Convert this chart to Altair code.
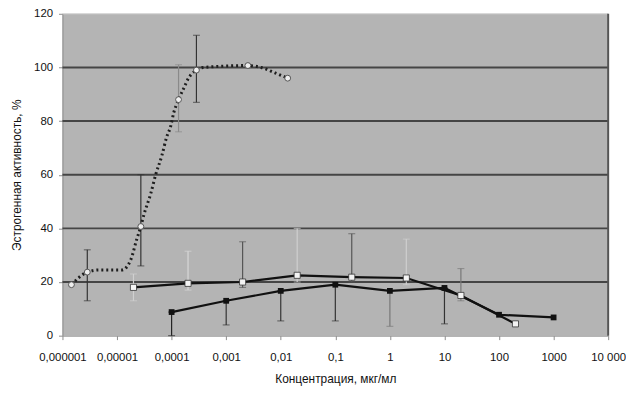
import altair as alt
import pandas as pd

# Axis ticks / labels
x_ticks = [1e-6, 1e-5, 1e-4, 1e-3, 1e-2, 1e-1, 1, 10, 100, 1000, 10000]
x_tick_labels = ["0,000001", "0,00001", "0,0001", "0,001", "0,01", "0,1",
                 "1", "10", "100", "1000", "10 000"]
y_ticks = [0, 20, 40, 60, 80, 100, 120]
grid_y = [20, 40, 60, 80, 100]

# Series 1 (dotted curve)
s1_x = [1.46e-6, 2.85e-6, 4.7e-6, 1.23e-5, 1.8e-5, 2.3e-5, 2.73e-5, 3.1e-5, 4.15e-5,
        5.1e-5, 6.6e-5, 8.1e-5, 9.6e-5, 1.09e-4, 1.34e-4, 1.65e-4, 2.04e-4, 2.85e-4,
        3.8e-4, 2.5e-3, 4.35e-3, 7.8e-3, 1.34e-2]
s1_y = [19, 23.7, 24.5, 24.5, 28.5, 36, 40.7, 45, 53,
        60, 67, 74, 78, 83, 88, 92, 96, 99,
        100, 100.7, 100, 98, 96]
s1_mx = [1.46e-6, 2.85e-6, 2.73e-5, 1.34e-4, 2.85e-4, 2.5e-3, 1.34e-2]
s1_my = [19, 23.7, 40.7, 88, 99, 100.7, 96]

# Series 2 (white squares)
s2_x = [2e-5, 2e-4, 2e-3, 2e-2, 0.2, 2, 20, 200]
s2_y = [18, 19.5, 20, 22.5, 21.8, 21.5, 15, 4.4]

# Series 3 (black squares)
s3_x = [1e-4, 1e-3, 1e-2, 0.1, 1, 10, 100, 1000]
s3_y = [8.8, 13, 16.7, 19, 16.7, 17.8, 7.8, 6.8]

# Error bars
err_x = [2.85e-6, 2.73e-5, 1.34e-4, 2.85e-4,
         2e-5, 2e-4, 2e-3, 2e-2, 0.2, 2, 20,
         1e-4, 1e-3, 1e-2, 0.1, 1, 10]
err_lo = [13, 26, 76, 87,
          13, 17, 18, 20, 20, 19, 13,
          0, 4, 5.5, 5.5, 3.5, 4.4]
err_hi = [32, 60, 101, 112,
          23, 31.5, 35, 40, 38, 36, 25,
          8.8, 13, 16.7, 19, 16.7, 17.8]
err_col = ["#333333", "#333333", "#8a8a8a", "#333333",
           "#d0d0d0", "#d8d8d8", "#555555", "#cfcfcf", "#555555", "#cfcfcf", "#777777",
           "#222222", "#333333", "#333333", "#333333", "#777777", "#333333"]

FONT = "Liberation Sans, Arial"

xscale = alt.Scale(type="log", domain=[1e-6, 1e4], nice=False)
yscale = alt.Scale(domain=[0, 120], nice=False)

label_expr = "{" + ",".join(
    f"'{i}': '{lab}'" for i, lab in enumerate(x_tick_labels)) + "}[format(log(datum.value)/LN10 + 6, '.0f')]"

xaxis = alt.Axis(values=x_ticks, labelExpr=label_expr, title="Концентрация, мкг/мл",
                 grid=False, domainColor="#8c8c8c", tickColor="#8c8c8c", tickSize=4,
                 labelPadding=12, titlePadding=11, labelFontSize=11.5, titleFontSize=12,
                 labelFont=FONT, titleFont=FONT, labelColor="#111", titleColor="#111",
                 titleFontWeight="normal", labelFlush=False)
yaxis = alt.Axis(values=y_ticks, title="Эстрогенная активность, %", grid=False,
                 domainColor="#8c8c8c", tickColor="#8c8c8c", tickSize=4, labelPadding=6,
                 titlePadding=10, labelFontSize=11.5, titleFontSize=12, labelFont=FONT,
                 titleFont=FONT, labelColor="#111", titleColor="#111",
                 titleFontWeight="normal")

grid_df = pd.DataFrame({"y": grid_y})
grid = alt.Chart(grid_df).mark_rule(color="#454545", strokeWidth=2).encode(
    y=alt.Y("y:Q", scale=yscale, axis=yaxis))

border_df = pd.DataFrame({"x": [1e4]})
border = alt.Chart(border_df).mark_rule(color="#555555", strokeWidth=2).encode(
    x=alt.X("x:Q", scale=xscale, axis=xaxis))

top_df = pd.DataFrame({"y": [120]})
top = alt.Chart(top_df).mark_rule(color="#d0d0d0", strokeWidth=1).encode(
    y=alt.Y("y:Q", scale=yscale))

err_df = pd.DataFrame({"x": err_x, "lo": err_lo, "hi": err_hi, "c": err_col})
err = alt.Chart(err_df).mark_rule(strokeWidth=1.2).encode(
    x=alt.X("x:Q", scale=xscale), y=alt.Y("lo:Q", scale=yscale), y2="hi:Q",
    color=alt.Color("c:N", scale=None))
cap_lo = alt.Chart(err_df).mark_tick(orient="horizontal", size=7, thickness=1).encode(
    x=alt.X("x:Q", scale=xscale), y=alt.Y("lo:Q", scale=yscale),
    color=alt.Color("c:N", scale=None))
cap_hi = alt.Chart(err_df).mark_tick(orient="horizontal", size=7, thickness=1).encode(
    x=alt.X("x:Q", scale=xscale), y=alt.Y("hi:Q", scale=yscale),
    color=alt.Color("c:N", scale=None))

s1_df = pd.DataFrame({"x": s1_x, "y": s1_y})
s1 = alt.Chart(s1_df).mark_line(color="#1e1e1e", strokeWidth=3, strokeDash=[2, 3],
                                interpolate="monotone").encode(
    x=alt.X("x:Q", scale=xscale), y=alt.Y("y:Q", scale=yscale))
s1m_df = pd.DataFrame({"x": s1_mx, "y": s1_my})
s1m = alt.Chart(s1m_df).mark_point(shape="circle", filled=True, color="#eeeeee",
                                   stroke="#555555", strokeWidth=1, size=35,
                                   opacity=1).encode(
    x=alt.X("x:Q", scale=xscale), y=alt.Y("y:Q", scale=yscale))

s2_df = pd.DataFrame({"x": s2_x, "y": s2_y})
s2 = alt.Chart(s2_df).mark_line(color="#111111", strokeWidth=2.2).encode(
    x=alt.X("x:Q", scale=xscale), y=alt.Y("y:Q", scale=yscale))
s2m = alt.Chart(s2_df).mark_point(shape="square", filled=True, color="#f4f4f4",
                                  stroke="#333333", strokeWidth=0.8, size=38,
                                  opacity=1).encode(
    x=alt.X("x:Q", scale=xscale), y=alt.Y("y:Q", scale=yscale))

s3_df = pd.DataFrame({"x": s3_x, "y": s3_y})
s3 = alt.Chart(s3_df).mark_line(color="#111111", strokeWidth=2.2).encode(
    x=alt.X("x:Q", scale=xscale), y=alt.Y("y:Q", scale=yscale))
s3m = alt.Chart(s3_df).mark_point(shape="square", filled=True, color="#111111",
                                  size=34, opacity=1).encode(
    x=alt.X("x:Q", scale=xscale), y=alt.Y("y:Q", scale=yscale))

chart = alt.layer(grid, top, border, err, cap_lo, cap_hi, s1, s1m, s3, s2, s3m, s2m).properties(
    width=551, height=325,
    autosize=alt.AutoSizeParams(type="none"),
    padding={"left": 55, "top": 4, "right": 18, "bottom": 52},
    background="white",
).configure_view(fill="#b4b4b4", stroke=None)

chart.save("out.html", embed_options={"renderer": "svg", "actions": False})
